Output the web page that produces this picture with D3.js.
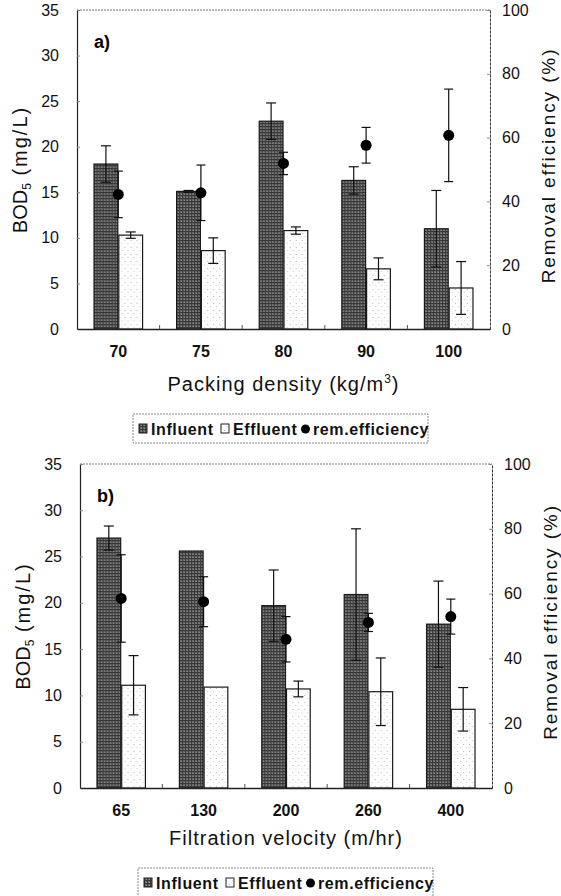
<!DOCTYPE html>
<html>
<head>
<meta charset="utf-8">
<script src="https://cdn.jsdelivr.net/npm/d3@7"></script>
<style>
  html, body { margin: 0; padding: 0; background: #fff; }
  svg { display: block; font-family: "Liberation Sans", Arial, sans-serif; }
</style>
</head>
<body>
<svg id="chart" width="561" height="896"></svg>
<script>
// ---- data ----
const seriesNames = ['Influent', 'Effluent'];

// a) packing density
const densityLabels = ['70', '75', '80', '90', '100'];
const densityInfluent = [18.1, 15.1, 22.8, 16.3, 11.0];
const densityInfluentErr = [2.0, 0.1, 2.0, 1.5, 4.2];
const densityEffluent = [10.3, 8.6, 10.8, 6.6, 4.5];
const densityEffluentErr = [0.35, 1.4, 0.4, 1.2, 2.9];
const densityEfficiency = [42.2, 42.7, 51.9, 57.6, 60.7];
const densityEfficiencyErr = [7.3, 8.7, 3.5, 5.6, 14.5];

// b) filtration velocity
const velocityLabels = ['65', '130', '200', '260', '400'];
const velocityInfluent = [27.0, 25.6, 19.7, 20.9, 17.7];
const velocityInfluentErr = [1.3, 0, 3.85, 7.1, 4.65];
const velocityEffluent = [11.1, 10.9, 10.7, 10.4, 8.5];
const velocityEffluentErr = [3.2, 0, 0.85, 3.65, 2.35];
const velocityEfficiency = [58.5, 57.5, 45.9, 51.1, 52.9];
const velocityEfficiencyErr = [13.5, 7.7, 7.0, 2.8, 5.4];

const bodTicks = [0, 5, 10, 15, 20, 25, 30, 35];
const effTicks = [0, 20, 40, 60, 80, 100];

const svg = d3.select('#chart');

// textures for the two bar series
const defs = svg.append('defs');
const pInf = defs.append('pattern').attr('id', 'pInf')
  .attr('patternUnits', 'userSpaceOnUse').attr('width', 3).attr('height', 3);
pInf.append('rect').attr('width', 3).attr('height', 3).attr('fill', '#6a6a6a');
pInf.append('rect').attr('width', 3).attr('height', 1).attr('fill', '#383838');
pInf.append('rect').attr('width', 1).attr('height', 3).attr('fill', '#383838');
pInf.append('rect').attr('x', 2).attr('y', 2).attr('width', 1).attr('height', 1).attr('fill', '#8e8e8e');

const pEff = defs.append('pattern').attr('id', 'pEff')
  .attr('patternUnits', 'userSpaceOnUse').attr('width', 6).attr('height', 7);
pEff.append('rect').attr('width', 6).attr('height', 7).attr('fill', '#fdfdfd');
pEff.append('rect').attr('x', 1).attr('y', 2).attr('width', 1).attr('height', 1).attr('fill', '#b8b8b8');
pEff.append('rect').attr('x', 4).attr('y', 5).attr('width', 1).attr('height', 1).attr('fill', '#d0d0d0');

const fills = { Influent: 'url(#pInf)', Effluent: 'url(#pEff)' };

function drawPanel(p) {
  const x = d3.scaleBand().domain(p.labels).range([p.left, p.right])
    .paddingInner(0.4).paddingOuter(0.2);
  const x1 = d3.scaleBand().domain(seriesNames).range([0, x.bandwidth()]);
  const y = d3.scaleLinear().domain([0, 35]).range([p.bottom, p.top]);
  const y2 = d3.scaleLinear().domain([0, 100]).range([p.bottom, p.top]);

  const rows = p.labels.map((c, i) => ({
    cat: c,
    bars: [
      { key: 'Influent', v: p.influent[i], e: p.influentErr[i] },
      { key: 'Effluent', v: p.effluent[i], e: p.effluentErr[i] }
    ],
    eff: p.efficiency[i],
    effErr: p.efficiencyErr[i]
  }));

  const g = svg.append('g');

  // frame: dotted top
  g.append('line').attr('x1', p.left).attr('x2', p.right).attr('y1', p.top).attr('y2', p.top)
    .attr('stroke', '#777').attr('stroke-dasharray', '2,1');

  // bars
  const groups = g.selectAll('g.grp').data(rows).enter().append('g')
    .attr('class', 'grp')
    .attr('transform', d => `translate(${x(d.cat)},0)`);

  groups.selectAll('rect').data(d => d.bars).enter().append('rect')
    .attr('x', d => x1(d.key) + 0.5)
    .attr('y', d => y(d.v))
    .attr('width', x1.bandwidth() - 1)
    .attr('height', d => y(0) - y(d.v))
    .attr('fill', d => fills[d.key])
    .attr('stroke', '#1a1a1a')
    .attr('stroke-width', 1.2);

  // bar error bars
  const capW = 10;
  groups.selectAll('g.err').data(d => d.bars.filter(b => b.e > 0)).enter().append('g')
    .attr('class', 'err')
    .each(function (d) {
      const cx = x1(d.key) + x1.bandwidth() / 2;
      const s = d3.select(this).attr('stroke', '#111').attr('stroke-width', 1.2);
      s.append('line').attr('x1', cx).attr('x2', cx).attr('y1', y(d.v + d.e)).attr('y2', y(d.v - d.e));
      s.append('line').attr('x1', cx - capW / 2).attr('x2', cx + capW / 2).attr('y1', y(d.v + d.e)).attr('y2', y(d.v + d.e));
      s.append('line').attr('x1', cx - capW / 2).attr('x2', cx + capW / 2).attr('y1', y(d.v - d.e)).attr('y2', y(d.v - d.e));
    });

  // efficiency error bars and dots
  groups.each(function (d) {
    const cx = x.bandwidth() / 2;
    const s = d3.select(this).append('g').attr('stroke', '#111').attr('stroke-width', 1.2);
    s.append('line').attr('x1', cx).attr('x2', cx).attr('y1', y2(d.eff + d.effErr)).attr('y2', y2(d.eff - d.effErr));
    s.append('line').attr('x1', cx - 4.5).attr('x2', cx + 4.5).attr('y1', y2(d.eff + d.effErr)).attr('y2', y2(d.eff + d.effErr));
    s.append('line').attr('x1', cx - 4.5).attr('x2', cx + 4.5).attr('y1', y2(d.eff - d.effErr)).attr('y2', y2(d.eff - d.effErr));
    d3.select(this).append('circle').attr('cx', cx).attr('cy', y2(d.eff)).attr('r', 5.5).attr('fill', '#000');
  });

  // left axis
  const ax = g.append('g').attr('transform', `translate(${p.left},0)`)
    .call(d3.axisLeft(y).tickValues(bodTicks).tickSizeInner(-3).tickSizeOuter(0).tickPadding(18));
  ax.select('.domain').attr('stroke', '#222').attr('stroke-width', 1.2);
  ax.selectAll('.tick line').attr('stroke', '#888');
  ax.selectAll('text').attr('font-size', 16).attr('fill', '#111').attr('font-family', null);

  // right axis
  const ar = g.append('g').attr('transform', `translate(${p.right},0)`)
    .call(d3.axisRight(y2).tickValues(effTicks).tickSizeInner(-3).tickSizeOuter(0).tickPadding(12));
  ar.select('.domain').attr('stroke', '#333').attr('stroke-dasharray', '3,1');
  ar.selectAll('.tick line').attr('stroke', '#888');
  ar.selectAll('text').attr('font-size', 16).attr('fill', '#111').attr('font-family', null);

  // bottom axis: bold category labels, small ticks between groups
  const ab = g.append('g').attr('transform', `translate(0,${p.bottom})`)
    .call(d3.axisBottom(x).tickSize(0).tickPadding(17));
  ab.select('.domain').attr('stroke', '#222').attr('stroke-width', 1.4);
  ab.selectAll('text').attr('font-size', 16).attr('font-weight', 'bold').attr('fill', '#111')
    .attr('font-family', null);
  const step = x.step();
  g.selectAll('line.sep').data(p.labels.slice(1)).enter().append('line')
    .attr('class', 'sep')
    .attr('x1', d => x(d) - (step - x.bandwidth()) / 2)
    .attr('x2', d => x(d) - (step - x.bandwidth()) / 2)
    .attr('y1', p.bottom).attr('y2', p.bottom - 4)
    .attr('stroke', '#555');

  // panel tag
  g.append('text').attr('x', p.left + 17).attr('y', p.top + 38)
    .attr('font-size', 18).attr('font-weight', 'bold').text(p.tag);

  // y titles
  const midY = (p.top + p.bottom) / 2;
  const lt = g.append('text')
    .attr('transform', `translate(${p.left - 57},${midY}) rotate(-90)`)
    .attr('text-anchor', 'middle').attr('dy', '0.35em')
    .attr('font-size', 20).attr('fill', '#111');
  lt.append('tspan').text('BOD');
  lt.append('tspan').attr('font-size', 12).attr('dy', 4).text('5');
  lt.append('tspan').attr('dy', -4).attr('letter-spacing', 2).text(' (mg/L)');

  g.append('text')
    .attr('transform', `translate(${p.right + 59},${midY - 4}) rotate(-90)`)
    .attr('text-anchor', 'middle').attr('dy', '0.33em')
    .attr('font-size', 19).attr('letter-spacing', 1.9).attr('fill', '#111')
    .text('Removal efficiency (%)');

  // x title
  const xt = g.append('text').attr('x', (p.left + p.right) / 2).attr('y', p.bottom + p.xTitleDy)
    .attr('text-anchor', 'middle').attr('font-size', 20).attr('letter-spacing', 1).attr('fill', '#111');
  p.xTitle(xt);

  // legend
  const lg = g.append('g').attr('transform', `translate(${p.legendX},${p.legendY})`);
  lg.append('rect').attr('width', 295).attr('height', 29).attr('fill', 'none')
    .attr('stroke', '#888').attr('stroke-dasharray', '2,1');
  const items = [
    { kind: 'Influent', label: 'Influent', x: 6 },
    { kind: 'Effluent', label: 'Effluent', x: 88 },
    { kind: 'dot', label: 'rem.efficiency', x: 168 }
  ];
  items.forEach(it => {
    if (it.kind === 'dot') {
      lg.append('circle').attr('cx', it.x + 4.5).attr('cy', 15).attr('r', 4.5).attr('fill', '#000');
    } else {
      lg.append('rect').attr('x', it.x).attr('y', 10).attr('width', 8).attr('height', 9)
        .attr('fill', fills[it.kind]).attr('stroke', '#222');
    }
    lg.append('text').attr('x', it.x + 12).attr('y', 20.5)
      .attr('font-size', 16).attr('font-weight', 'bold').attr('letter-spacing', 0.6)
      .attr('fill', '#111').text(it.label);
  });
}

drawPanel({
  tag: 'a)',
  left: 77, right: 490, top: 10, bottom: 329,
  labels: densityLabels,
  influent: densityInfluent, influentErr: densityInfluentErr,
  effluent: densityEffluent, effluentErr: densityEffluentErr,
  efficiency: densityEfficiency, efficiencyErr: densityEfficiencyErr,
  xTitleDy: 62,
  xTitle: t => {
    t.append('tspan').text('Packing density (kg/m');
    t.append('tspan').attr('font-size', 12).attr('dy', -8).text('3');
    t.append('tspan').attr('dy', 8).text(')');
  },
  legendX: 133, legendY: 414
});

drawPanel({
  tag: 'b)',
  left: 80, right: 492, top: 464, bottom: 788,
  labels: velocityLabels,
  influent: velocityInfluent, influentErr: velocityInfluentErr,
  effluent: velocityEffluent, effluentErr: velocityEffluentErr,
  efficiency: velocityEfficiency, efficiencyErr: velocityEfficiencyErr,
  xTitleDy: 57,
  xTitle: t => t.text('Filtration velocity (m/hr)'),
  legendX: 138, legendY: 868
});
</script>
</body>
</html>
